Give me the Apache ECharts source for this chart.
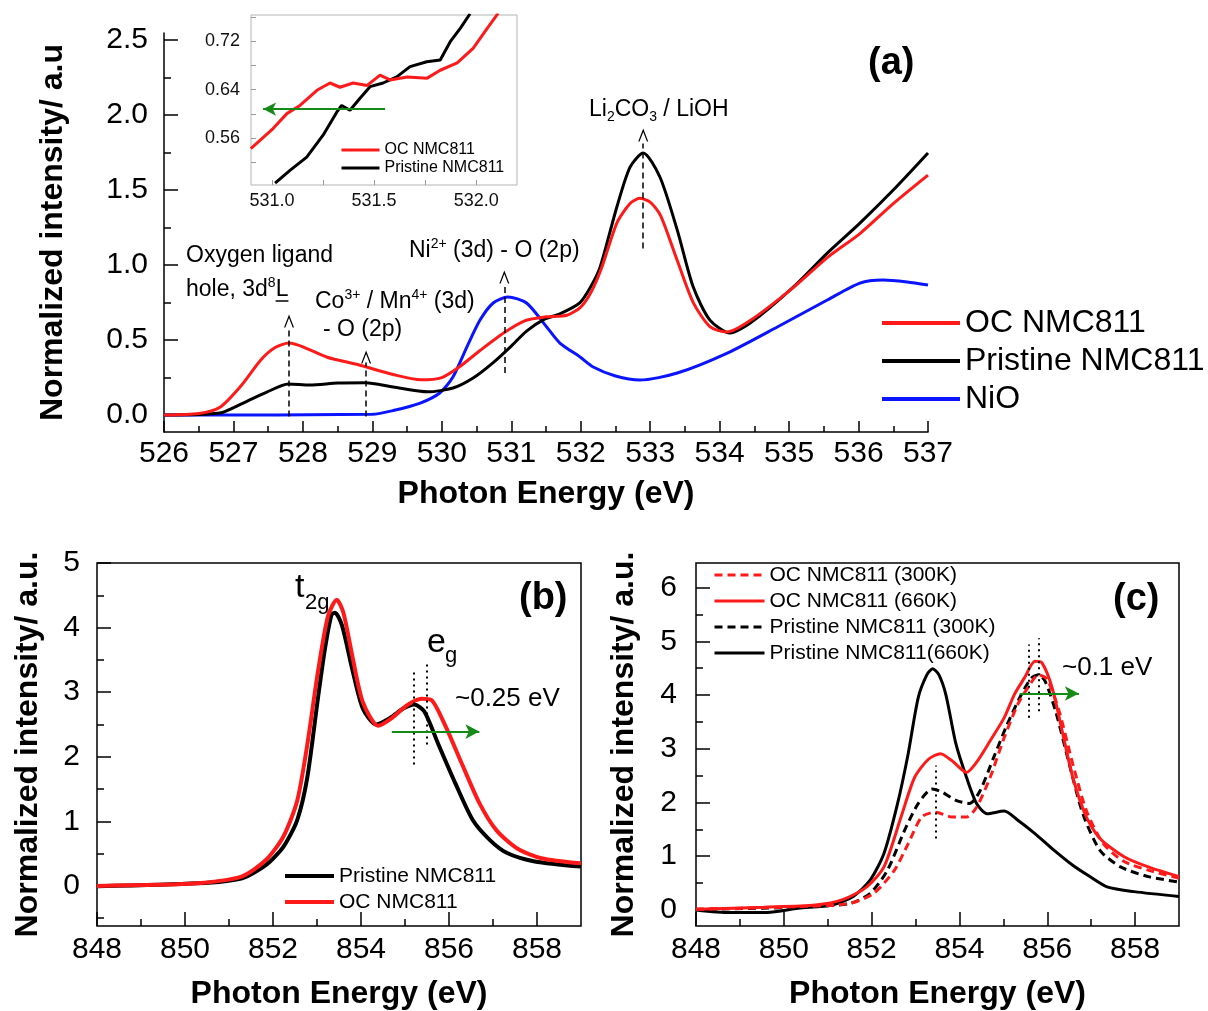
<!DOCTYPE html>
<html><head><meta charset="utf-8">
<script src="https://cdn.jsdelivr.net/npm/echarts@6/dist/echarts.min.js"></script>
<style>html,body{margin:0;padding:0;background:#fff}#c{width:1208px;height:1011px}</style>
</head><body><div id="c"></div>
<script>
const FONT = '"Liberation Sans", Arial, Helvetica, sans-serif';

// ---- Panel (a): O K-edge ----
const aOC = [[526.0,0.0],[526.5,0.01],[526.8,0.05],[527.1,0.19],[527.4,0.37],[527.6,0.45],[527.8,0.48],[528.0,0.455],[528.35,0.385],[528.8,0.335],[529.3,0.27],[529.7,0.235],[530.0,0.25],[530.25,0.32],[530.55,0.43],[530.9,0.55],[531.2,0.63],[531.5,0.655],[531.8,0.665],[532.0,0.72],[532.15,0.82],[532.3,0.98],[532.52,1.28],[532.71,1.41],[532.85,1.445],[533.0,1.42],[533.15,1.33],[533.39,1.03],[533.62,0.75],[533.86,0.59],[534.1,0.553],[534.44,0.63],[535.06,0.85],[535.55,1.05],[536.02,1.21],[536.5,1.41],[537.0,1.60]];
const aPristine = [[526.0,0.0],[526.8,0.013],[527.14,0.08],[527.48,0.153],[527.79,0.207],[528.1,0.2],[528.5,0.213],[528.9,0.215],[529.3,0.187],[529.8,0.155],[530.16,0.18],[530.45,0.247],[530.74,0.35],[531.0,0.46],[531.22,0.56],[531.46,0.635],[531.7,0.675],[531.99,0.75],[532.15,0.86],[532.28,0.987],[532.52,1.387],[532.71,1.653],[532.9,1.747],[533.14,1.587],[533.39,1.233],[533.62,0.853],[533.86,0.633],[534.15,0.547],[534.44,0.613],[535.06,0.853],[535.55,1.08],[536.02,1.28],[536.5,1.5],[537.0,1.747]];
const aNiO = [[526.0,0.0],[529.0,0.005],[529.3,0.03],[529.69,0.08],[529.97,0.147],[530.16,0.253],[530.36,0.453],[530.55,0.633],[530.74,0.747],[530.95,0.787],[531.22,0.747],[531.51,0.587],[531.7,0.48],[531.99,0.387],[532.18,0.32],[532.5,0.26],[532.85,0.233],[533.39,0.28],[534.11,0.413],[534.83,0.587],[535.55,0.767],[536.02,0.88],[536.35,0.9],[536.7,0.887],[537.0,0.867]];

// ---- Inset of (a) ----
const inOC = [[530.896,0.543],[531.005,0.576],[531.074,0.601],[531.137,0.614],[531.22,0.639],[531.284,0.651],[531.333,0.644],[531.397,0.651],[531.466,0.647],[531.529,0.664],[531.578,0.656],[531.662,0.661],[531.76,0.659],[531.824,0.672],[531.907,0.684],[531.985,0.708],[532.054,0.741],[532.108,0.766]];
const inPristine = [[531.015,0.486],[531.088,0.507],[531.17,0.529],[531.25,0.565],[531.317,0.603],[531.341,0.614],[531.382,0.606],[531.431,0.626],[531.48,0.645],[531.544,0.651],[531.611,0.661],[531.676,0.678],[531.758,0.686],[531.824,0.689],[531.873,0.719],[531.922,0.741],[531.97,0.765]];

// ---- Panel (b): Ni L3 ----
const bPristine = [[848,-0.005],[850.28,0.04],[851.3,0.12],[851.85,0.33],[852.24,0.61],[852.55,1.02],[852.78,1.68],[853.02,2.9],[853.18,3.67],[853.33,4.2],[853.41,4.23],[853.57,4.03],[853.8,3.36],[854.04,2.75],[854.35,2.5],[854.66,2.6],[854.97,2.75],[855.21,2.81],[855.44,2.7],[855.76,2.19],[856.15,1.58],[856.54,1.02],[856.93,0.71],[857.32,0.51],[857.95,0.38],[859,0.30]];
const bOC = [[848,0.0],[850.28,0.04],[851.3,0.15],[851.85,0.41],[852.24,0.77],[852.55,1.32],[852.78,2.19],[853.02,3.31],[853.25,4.18],[853.45,4.43],[853.6,4.23],[853.8,3.57],[854.04,2.85],[854.39,2.48],[854.7,2.6],[855.05,2.8],[855.37,2.9],[855.6,2.88],[855.91,2.49],[856.3,1.88],[856.7,1.27],[857.08,0.86],[857.55,0.58],[858.1,0.43],[859,0.35]];

// ---- Panel (c): temperature dependent ----
const cOC300 = [[848,0.01],[850.33,0.06],[851.5,0.12],[852.05,0.31],[852.52,0.74],[852.83,1.23],[853.14,1.73],[853.45,1.82],[853.84,1.73],[854.16,1.73],[854.39,1.91],[854.7,2.47],[855.02,3.21],[855.33,3.83],[855.56,4.14],[855.8,4.38],[856.0,4.29],[856.27,3.7],[856.58,2.72],[856.89,1.85],[857.28,1.23],[857.75,0.9],[858.3,0.74],[859,0.59]];
const cOC660 = [[848,0.01],[849.55,0.05],[850.72,0.09],[851.34,0.19],[851.89,0.43],[852.28,0.8],[852.67,1.73],[852.98,2.47],[853.3,2.81],[853.57,2.91],[853.84,2.77],[854.16,2.56],[854.39,2.75],[854.7,3.15],[855.02,3.58],[855.25,4.01],[855.48,4.32],[855.72,4.63],[855.88,4.6],[856.11,4.14],[856.34,3.33],[856.58,2.47],[856.89,1.73],[857.2,1.33],[857.75,0.99],[858.3,0.8],[859,0.62]];
const cPr300 = [[848,0.01],[850.33,0.05],[851.5,0.12],[851.97,0.31],[852.36,0.74],[852.75,1.48],[853.06,1.98],[853.38,2.25],[853.61,2.19],[853.92,2.04],[854.23,1.98],[854.47,2.22],[854.78,2.84],[855.09,3.46],[855.41,4.01],[855.64,4.32],[855.8,4.38],[855.95,4.26],[856.19,3.7],[856.5,2.72],[856.81,1.79],[857.2,1.11],[857.67,0.8],[858.3,0.62],[859,0.52]];
const cPr660 = [[848,0],[848.77,-0.05],[849.55,-0.05],[850.33,0.03],[851.1,0.09],[851.58,0.25],[851.97,0.56],[852.28,1.05],[852.59,1.98],[852.83,2.9],[853.06,3.95],[853.26,4.38],[853.39,4.49],[853.53,4.38],[853.69,4.01],[853.92,3.09],[854.16,2.47],[854.39,1.98],[854.63,1.79],[855.02,1.84],[855.33,1.67],[855.72,1.42],[856.11,1.14],[856.58,0.83],[856.97,0.62],[857.36,0.43],[857.98,0.34],[859,0.25]];

// ---- Tick values ----
const aXTicks = [526,527,528,529,530,531,532,533,534,535,536,537];
const aXMinor = [526.5,527.5,528.5,529.5,530.5,531.5,532.5,533.5,534.5,535.5,536.5];
const aYTicks = [0,0.5,1.0,1.5,2.0,2.5];
const aYMinor = [0.25,0.75,1.25,1.75,2.25];
const inXTicks = [531.0,531.5,532.0];
const inXMinor = [531.25,531.75];
const inYTicks = [0.56,0.64,0.72];
const inYMinor = [0.52,0.60,0.68,0.76];
const bcXTicks = [848,850,852,854,856,858];
const bcXMinor = [849,851,853,855,857];
const bYTicks = [0,1,2,3,4,5];
const bYMinor = [-0.5,0.5,1.5,2.5,3.5,4.5];
const cYTicks = [0,1,2,3,4,5,6];
const cYMinor = [0.5,1.5,2.5,3.5,4.5,5.5];

const NAMES = {aOC:'OC NMC811', aPr:'Pristine NMC811', aNiO:'NiO', iOC:'OC NMC811', iPr:'Pristine NMC811',
  bPr:'Pristine NMC811', bOC:'OC NMC811', cOC300:'OC NMC811 (300K)', cOC660:'OC NMC811 (660K)',
  cPr300:'Pristine NMC811 (300K)', cPr660:'Pristine NMC811(660K)'};

const RED = '#ff1a1a', BLK = '#000000', BLUE = '#0a14ff', GREEN = '#168a16';

function axisPair(dim, gi, min, max, major, minor, cfg) {
  const pos = dim === 'x' ? 'bottom' : 'left';
  const col = cfg.color || '#000';
  const base = {gridIndex: gi, type: 'value', min: min, max: max, position: pos, splitLine: {show: false}};
  const maj = Object.assign({}, base, {
    axisLine: {show: cfg.line !== false, onZero: false, lineStyle: {color: col, width: cfg.lw || 1.5}},
    axisTick: {show: true, inside: true, length: cfg.majLen, customValues: major, lineStyle: {color: col, width: cfg.lw || 1.5}},
    axisLabel: {show: true, customValues: cfg.labels || major, formatter: cfg.fmt, margin: cfg.margin,
      fontSize: cfg.fs, fontFamily: FONT, color: cfg.labelColor || '#000'},
  });
  if (cfg.name) {
    maj.name = cfg.name; maj.nameLocation = 'middle'; maj.nameGap = cfg.nameGap;
    maj.nameTextStyle = {fontSize: 32, fontWeight: 'bold', fontFamily: FONT, color: '#000'};
  }
  const mnr = Object.assign({}, base, {
    axisLine: {show: false, onZero: false},
    axisLabel: {show: false},
    axisTick: {show: true, inside: true, length: cfg.minLen, customValues: minor, lineStyle: {color: col, width: cfg.lw || 1.5}},
  });
  return [maj, mnr];
}

// axis index of the labelled (major) axis of grid g is 2*g
const xAxes = [].concat(
  axisPair('x', 0, 526, 537, aXTicks, aXMinor, {majLen: 11, minLen: 6, fs: 30, margin: 7, fmt: v => String(Math.round(v)), name: 'Photon Energy (eV)', nameGap: 46}),
  axisPair('x', 1, 530.897, 532.2, inXTicks, inXMinor, {majLen: 5, minLen: 5, fs: 18, margin: 7, color: '#9a9a9a', lw: 1, line: false, fmt: v => v.toFixed(1), labelColor: '#111'}),
  axisPair('x', 2, 848, 859, bcXTicks, bcXMinor, {majLen: 14, minLen: 7, fs: 30, margin: 9, line: false, fmt: v => String(Math.round(v)), name: 'Photon Energy (eV)', nameGap: 52}),
  axisPair('x', 3, 848, 859, bcXTicks, bcXMinor, {majLen: 14, minLen: 7, fs: 30, margin: 9, line: false, fmt: v => String(Math.round(v)), name: 'Photon Energy (eV)', nameGap: 52})
);
const yAxes = [].concat(
  axisPair('y', 0, -0.113, 2.547, aYTicks, aYMinor, {majLen: 14, minLen: 7, fs: 30, margin: 16, fmt: v => v.toFixed(1), name: 'Normalized intensity/ a.u', nameGap: 95}),
  axisPair('y', 1, 0.483, 0.763, inYTicks, inYMinor, {majLen: 5, minLen: 5, fs: 18, margin: 11, color: '#9a9a9a', lw: 1, line: false, fmt: v => v.toFixed(2), labelColor: '#111'}),
  axisPair('y', 2, -0.62, 5.0, bYTicks, bYMinor, {majLen: 14, minLen: 7, fs: 30, margin: 17, line: false, fmt: v => String(Math.round(v)), name: 'Normalized intensity/ a.u.', nameGap: 53}),
  axisPair('y', 3, -0.3, 6.46, cYTicks, cYMinor, {majLen: 14, minLen: 7, fs: 30, margin: 19, line: false, fmt: v => String(Math.round(v)), name: 'Normalized intensity/ a.u.', nameGap: 56})
);

function line(name, data, g, color, width, extra) {
  return Object.assign({
    type: 'line', name: name, data: data, xAxisIndex: 2 * g, yAxisIndex: 2 * g,
    symbol: 'none', showSymbol: false, smooth: 0.25, silent: true,
    lineStyle: {color: color, width: width}, itemStyle: {color: color}, emphasis: {disabled: true}
  }, extra || {});
}
const VL = (x, y1, y2) => [{coord: [x, y1], symbol: 'none'}, {coord: [x, y2], symbol: 'none'}];
const AR = (x1, x2, y) => [{coord: [x1, y], symbol: 'none'}, {coord: [x2, y], symbol: 'arrow'}];

const series = [
  line('aNiO', aNiO, 0, BLUE, 3),
  line('aPr', aPristine, 0, BLK, 3, {
    markLine: {silent: true, animation: false, symbolSize: 12, label: {show: false}, emphasis: {disabled: true},
      lineStyle: {color: '#000', width: 1.5, type: [6, 4]},
      data: [VL(527.8, -0.01, 0.57), VL(528.91, -0.01, 0.35), VL(530.9, 0.28, 0.88), VL(532.9, 1.11, 1.81)]},
    markPoint: {silent: true, animation: false, symbol: 'path://M0,12 L5,0 L10,12 L8.7,12 L5,3.2 L1.3,12 Z',
      symbolSize: [10, 13], itemStyle: {color: '#000'}, label: {show: false},
      data: [{coord: [527.8, 0.627]}, {coord: [528.91, 0.387]}, {coord: [530.9, 0.92]}, {coord: [532.9, 1.867]}]}
  }),
  line('aOC', aOC, 0, RED, 3),
  line('iPr', inPristine, 1, BLK, 3, {smooth: false}),
  line('iOC', inOC, 1, RED, 3, {smooth: false,
    markLine: {silent: true, animation: false, symbolSize: [10, 13], label: {show: false}, emphasis: {disabled: true},
      lineStyle: {color: GREEN, width: 2, type: 'solid'}, data: [AR(531.554, 530.956, 0.608)]}}),
  line('bPr', bPristine, 2, BLK, 4, {
    markLine: {silent: true, animation: false, label: {show: false}, emphasis: {disabled: true},
      lineStyle: {color: '#000', width: 2, type: [2, 4]},
      data: [VL(855.19, 1.88, 3.36), VL(855.5, 2.19, 3.49)]}}),
  line('bOC', bOC, 2, RED, 4, {
    markLine: {silent: true, animation: false, symbolSize: [11, 14], label: {show: false}, emphasis: {disabled: true},
      lineStyle: {color: GREEN, width: 2, type: 'solid'}, data: [AR(854.7, 856.69, 2.39)]}}),
  line('cPr660', cPr660, 3, BLK, 3),
  line('cPr300', cPr300, 3, BLK, 3, {lineStyle: {color: BLK, width: 3, type: [8, 5]},
    markLine: {silent: true, animation: false, label: {show: false}, emphasis: {disabled: true},
      lineStyle: {color: '#000', width: 2, type: [2, 4]},
      data: [VL(853.45, 1.33, 2.69), VL(855.58, 3.58, 4.94), VL(855.8, 3.7, 5.06)]}}),
  line('cOC300', cOC300, 3, RED, 3, {lineStyle: {color: RED, width: 3, type: [8, 5]}}),
  line('cOC660', cOC660, 3, RED, 3, {
    markLine: {silent: true, animation: false, symbolSize: [11, 14], label: {show: false}, emphasis: {disabled: true},
      lineStyle: {color: GREEN, width: 2, type: 'solid'}, data: [AR(855.37, 856.72, 4.03)]}})
];

function legend(names, left, top, iw, fs, lh, lw) {
  return {data: names, left: left, top: top, orient: 'vertical', padding: 0, itemGap: 0,
    itemWidth: iw, itemHeight: 10, selectedMode: false, itemStyle: {opacity: 0},
    lineStyle: {width: lw},
    formatter: n => NAMES[n], textStyle: {fontSize: fs, lineHeight: lh, fontFamily: FONT, color: '#000'}};
}

// text measurement for underline under "L"
const mctx = document.createElement('canvas').getContext('2d');
function tw(t, size) { mctx.font = size + 'px "Liberation Sans"'; return mctx.measureText(t).width; }
const holeX = 186, holeY = 290;
const lX = holeX + tw('hole, 3d', 23) + tw('8', 14);
const lW = tw('L', 23);

const T = (x, y, text, fs, extra) => Object.assign({type: 'text', silent: true, z: 100,
  style: {x: x, y: y, text: text, fontSize: fs, fontFamily: FONT, fill: '#000', align: 'left', verticalAlign: 'middle'}}, extra || {});
const RICH = {
  a: {fontSize: 23, fontFamily: FONT, lineHeight: 28, color: '#000'},
  s: {fontSize: 14, fontFamily: FONT, lineHeight: 14, verticalAlign: 'top', color: '#000'},
  b: {fontSize: 14, fontFamily: FONT, lineHeight: 14, verticalAlign: 'bottom', color: '#000'}
};
const R = (x, y, text) => ({type: 'text', silent: true, z: 100,
  style: {x: x, y: y, text: text, rich: RICH, align: 'left', verticalAlign: 'middle', fill: '#000'}});

const graphics = [
  T(186, 256, 'Oxygen ligand', 23),
  R(holeX, holeY, '{a|hole, 3d}{s|8}{a|L}'),
  {type: 'line', silent: true, z: 100, shape: {x1: lX, y1: holeY + 11, x2: lX + lW, y2: holeY + 11}, style: {stroke: '#000', lineWidth: 1.5}},
  R(315, 302, '{a|Co}{s|3+}{a| / Mn}{s|4+}{a| (3d)}'),
  T(323, 330, '- O (2p)', 23),
  R(409, 251, '{a|Ni}{s|2+}{a| (3d) - O (2p)}'),
  R(589, 110, '{a|Li}{b|2}{a|CO}{b|3}{a| / LiOH}'),
  {type: 'text', silent: true, z: 100, style: {x: 868, y: 64, text: '(a)', fontSize: 38, fontWeight: 'bold', fontFamily: FONT, fill: '#000', verticalAlign: 'middle'}},
  T(295, 588, 't', 34),
  T(305, 603, '2g', 22),
  T(427, 643, 'e', 34),
  T(445, 656, 'g', 22),
  T(455, 699, '~0.25 eV', 26),
  {type: 'text', silent: true, z: 100, style: {x: 519, y: 599, text: '(b)', fontSize: 38, fontWeight: 'bold', fontFamily: FONT, fill: '#000', verticalAlign: 'middle'}},
  T(1062, 668, '~0.1 eV', 26),
  {type: 'text', silent: true, z: 100, style: {x: 1113, y: 600, text: '(c)', fontSize: 38, fontWeight: 'bold', fontFamily: FONT, fill: '#000', verticalAlign: 'middle'}}
];

const chart = echarts.init(document.getElementById('c'), null, {renderer: 'canvas'});
chart.setOption({
  animation: false,
  backgroundColor: '#fff',
  grid: [
    {left: 164, top: 33, width: 764, height: 399, show: false},
    {left: 251, top: 15, width: 266, height: 170, show: true, borderColor: '#b3b3b3', borderWidth: 1, backgroundColor: '#fff'},
    {left: 97, top: 563, width: 484, height: 365, show: true, borderColor: '#000', borderWidth: 1.5},
    {left: 696, top: 563, width: 483, height: 365, show: true, borderColor: '#000', borderWidth: 1.5}
  ],
  xAxis: xAxes,
  yAxis: yAxes,
  legend: [
    legend(['aOC', 'aPr', 'aNiO'], 880, 304, 78, 32, 38, 4),
    legend(['iOC', 'iPr'], 340, 141, 38, 16, 18, 3),
    legend(['bPr', 'bOC'], 283, 863, 49, 21, 26, 4),
    legend(['cOC300', 'cOC660', 'cPr300', 'cPr660'], 713, 562, 50, 21, 26, 3)
  ],
  series: series,
  graphic: graphics
});
</script>
</body></html>
